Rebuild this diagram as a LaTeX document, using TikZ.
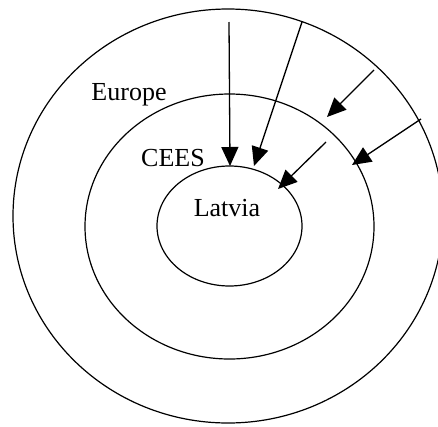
\documentclass[tikz,border=0pt]{standalone}
\usepackage{fontspec}
\setmainfont{Liberation Serif}
\usetikzlibrary{arrows.meta,shapes.geometric}

\begin{document}
\begin{tikzpicture}[x=1pt,y=-1pt,
  ring/.style={draw,ellipse,line width=1.2pt,inner sep=0pt},
  push/.style={-{Triangle[length=19pt,width=17pt]},line width=1.3pt},
  lbl/.style={inner sep=0pt,font=\fontsize{26}{30}\selectfont}]
  \useasboundingbox (0,0) rectangle (438,426);
  \node[ring,minimum width=430pt,minimum height=414pt] (europe) at (228,216) {};
  \node[ring,minimum width=289pt,minimum height=265pt] (cees) at (229.5,226.5) {};
  \node[ring,minimum width=145pt,minimum height=120pt] (latvia) at (229.5,226) {};
  \node[lbl] (europelbl) at (129,95) {Europe};
  \node[lbl] (ceeslbl) at (173,158) {CEES};
  \node[lbl] (latvialbl) at (227,208) {Latvia};
  % arrow ends
  \coordinate (s1) at (229,22);   \coordinate (t1) at (230,166);
  \coordinate (s2) at (302,22);   \coordinate (t2) at (254,166);
  \coordinate (s3) at (374,70);   \coordinate (t3) at (327,117);
  \coordinate (s4) at (421,119);  \coordinate (t4) at (352,165);
  \coordinate (s5) at (326,142);  \coordinate (t5) at (278,189);
  \foreach \i in {1,...,5} \draw[push] (s\i) -- (t\i);
\end{tikzpicture}
\end{document}
